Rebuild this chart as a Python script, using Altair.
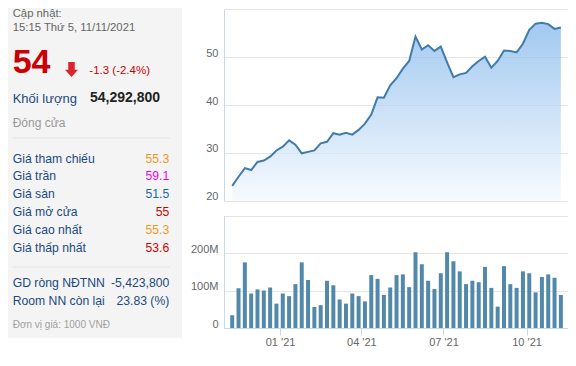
import altair as alt
import pandas as pd

# ---------------- data ----------------
FIRST_WEEK = "2020-11-09"
N_WEEKS = 53
PRICE = [23.1, 25.0, 26.8, 26.4, 28.1, 28.4, 29.2, 30.5, 31.3, 32.6,
         31.7, 29.9, 30.2, 30.5, 32.0, 32.3, 34.1, 33.8, 34.2, 33.8,
         34.8, 36.1, 38.0, 41.6, 41.5, 44.1, 45.6, 47.6, 49.2, 54.3,
         51.6, 52.5, 51.3, 52.2, 48.9, 45.8, 46.4, 46.7, 48.1, 49.2,
         50.1, 47.8, 49.2, 51.4, 51.3, 51.0, 52.8, 55.7, 57.0, 57.2,
         56.9, 55.9, 56.2]
VOLUME_M = [34, 106, 175, 92, 103, 100, 108, 65, 92, 85,
            117, 175, 128, 56, 61, 126, 114, 76, 65, 92,
            85, 71, 141, 131, 88, 108, 141, 143, 109, 202,
            170, 126, 104, 146, 202, 178, 151, 117, 126, 122,
            163, 107, 57, 165, 117, 107, 151, 146, 95, 136,
            143, 134, 88]
PRICE_TICKS = [20, 30, 40, 50, 60]
VOLUME_TICKS = [0, 100e6, 200e6, 300e6]
MONTH_TICKS = [1, 4, 7, 10]   # months of 2021 shown on the time axis

UPDATED_LABEL = "Cập nhật:"
UPDATED_TIME = "15:15 Thứ 5, 11/11/2021"
LAST_PRICE = "54"
CHANGE = "-1.3 (-2.4%)"
VOLUME_LABEL = "Khối lượng"
VOLUME_VALUE = "54,292,800"
STATUS = "Đóng cửa"
ROW_LABELS = ["Giá tham chiếu", "Giá trần", "Giá sàn", "Giá mở cửa", "Giá cao nhất", "Giá thấp nhất"]
ROW_VALUES = ["55.3", "59.1", "51.5", "55", "55.3", "53.6"]
ROW_KINDS = ["ref", "ceil", "floor", "down", "ref", "down"]
NET_LABELS = ["GD ròng NĐTNN", "Room NN còn lại"]
NET_VALUES = ["-5,423,800", "23.83 (%)"]
UNIT_NOTE = "Đơn vị giá: 1000 VNĐ"

# ---------------- styles ----------------
FONT = "Liberation Sans"
LABEL_BLUE = "#1c4a80"
RED = "#cc0000"
KIND_DOMAIN = ["ref", "ceil", "floor", "down"]
KIND_COLORS = ["#f7941d", "#ee00ee", "#1a67a3", "#d40000"]
LINE_COLOR = "#3f7cab"
BAR_COLOR = "#5289ab"
GRID = "#e6e6e6"
AXIS = "#ccd6eb"
ARROW = "M-0.5,-1.15 L0.5,-1.15 L0.5,0.05 L1,0.05 L0,1.15 L-1,0.05 L-0.5,0.05 Z"
ROW_FONT = 12.2

dates = pd.date_range(FIRST_WEEK, periods=N_WEEKS, freq="7D").strftime("%Y-%m-%d")
df = pd.DataFrame({"date": list(dates), "price": PRICE,
                   "volume": [v * 1e6 for v in VOLUME_M]})

x_enc = alt.X(
    "date:T",
    scale=alt.Scale(
        type="utc",
        domain=[alt.DateTime(year=2020, month=11, date=5, hours=10, minutes=50, utc=True),
                alt.DateTime(year=2021, month=11, date=10, hours=8, minutes=47, utc=True)],
        range=[216, 560], nice=False),
    axis=alt.Axis(values=[alt.DateTime(year=2021, month=m, date=1, utc=True) for m in MONTH_TICKS],
                  format="%m '%y", grid=False, tickSize=7, labelPadding=1,
                  title=None, domainColor=AXIS, tickColor=AXIS),
)

price = alt.Chart(df).mark_area(
    interpolate="linear",
    line={"color": LINE_COLOR, "strokeWidth": 2},
    color=alt.Gradient(gradient="linear",
                       stops=[alt.GradientStop(color="#7ab2ea", offset=0),
                              alt.GradientStop(color="#f3f8fe", offset=1)],
                       x1=1, x2=1, y1=0, y2=1),
).encode(
    x=x_enc,
    y=alt.Y("price:Q",
            scale=alt.Scale(domain=[20, 60], range=[192.7, 1.3], zero=False, nice=False),
            axis=alt.Axis(orient="left", offset=-216, values=PRICE_TICKS,
                          labelExpr="datum.value >= 60 ? '' : datum.label",
                          ticks=False, labelPadding=6, labelBaseline="alphabetic",
                          labelOffset=-1, title=None, grid=True)),
    y2=alt.datum(20),
)

volume = alt.Chart(df).mark_bar(size=4, color=BAR_COLOR).encode(
    x=x_enc,
    y=alt.Y("volume:Q",
            scale=alt.Scale(domain=[0, 3e8], range=[320, 207.5], nice=False),
            axis=alt.Axis(orient="left", offset=-216, values=VOLUME_TICKS,
                          labelExpr="datum.value == 0 ? '0' : (datum.value >= 3e8 ? '' : (datum.value / 1e6) + 'M')",
                          ticks=False, labelPadding=6, labelBaseline="alphabetic",
                          labelOffset=-1, title=None, grid=True)),
)


def one(v):
    return alt.Chart(pd.DataFrame({"t": [v]}))


def txt(s, x, y, size, color, weight="normal", align="left"):
    return one(s).mark_text(align=align, baseline="alphabetic", fontSize=size,
                            fontWeight=weight, color=color, font=FONT).encode(
        x=alt.value(x), y=alt.value(y), text="t:N")


panel_bg = one(0).mark_rect(color="#f4f4f4").encode(
    x=alt.value(0), x2=alt.value(174), y=alt.value(0), y2=alt.value(330))
sep1 = one(0).mark_rule(color="#e3e3e3").encode(
    x=alt.value(4.7), x2=alt.value(162), y=alt.value(130))
sep2 = one(0).mark_rule(color="#e3e3e3").encode(
    x=alt.value(4.7), x2=alt.value(162), y=alt.value(259))

arrow = one(0).mark_point(shape=ARROW, size=169, filled=True, opacity=1,
                          color="#d9262c", strokeWidth=0).encode(
    x=alt.value(63.5), y=alt.value(61.5))

rows = pd.DataFrame({"i": list(range(len(ROW_LABELS))), "label": ROW_LABELS,
                     "value": ROW_VALUES, "kind": ROW_KINDS})
row_y = alt.Y("i:Q", scale=alt.Scale(domain=[0, 5], range=[154.5, 243.5]), axis=None)
row_labels = alt.Chart(rows).mark_text(align="left", baseline="alphabetic", fontSize=ROW_FONT,
                                       color=LABEL_BLUE, font=FONT).encode(
    x=alt.value(4.7), y=row_y, text="label:N")
row_values = alt.Chart(rows).mark_text(align="right", baseline="alphabetic", fontSize=ROW_FONT,
                                       font=FONT).encode(
    x=alt.value(161.3), y=row_y, text="value:N",
    color=alt.Color("kind:N", scale=alt.Scale(domain=KIND_DOMAIN, range=KIND_COLORS), legend=None))

net = pd.DataFrame({"i": [0, 1], "label": NET_LABELS, "value": NET_VALUES})
net_y = alt.Y("i:Q", scale=alt.Scale(domain=[0, 1], range=[278.7, 297]), axis=None)
net_labels = alt.Chart(net).mark_text(align="left", baseline="alphabetic", fontSize=ROW_FONT,
                                      color=LABEL_BLUE, font=FONT).encode(
    x=alt.value(4.7), y=net_y, text="label:N")
net_values = alt.Chart(net).mark_text(align="right", baseline="alphabetic", fontSize=ROW_FONT,
                                      color=LABEL_BLUE, font=FONT).encode(
    x=alt.value(161.3), y=net_y, text="value:N")

chart = alt.layer(
    panel_bg, sep1, sep2, price, volume,
    txt(UPDATED_LABEL, 4.7, 9.3, 11.3, "#666666"),
    txt(UPDATED_TIME, 4.7, 23.3, 11.3, "#666666"),
    txt(LAST_PRICE, 4.7, 65.3, 34, RED, "bold"),
    arrow,
    txt(CHANGE, 81.3, 65.5, 11.5, RED),
    txt(VOLUME_LABEL, 4.7, 94.5, 13, LABEL_BLUE),
    txt(VOLUME_VALUE, 82, 94, 14, "#222222", "bold"),
    txt(STATUS, 4.7, 118.7, 12, "#999999"),
    row_labels, row_values, net_labels, net_values,
    txt(UNIT_NOTE, 4.7, 319.8, 10, "#a0a0a0"),
).resolve_scale(y="independent").properties(
    width=560, height=320, padding=0
).configure_view(stroke=None).configure_axis(
    labelFont=FONT, labelFontSize=11, labelColor="#666666",
    domainColor=AXIS, gridColor=GRID, tickColor=AXIS,
)

chart.save("out.html", embed_options={"renderer": "svg", "actions": False})
